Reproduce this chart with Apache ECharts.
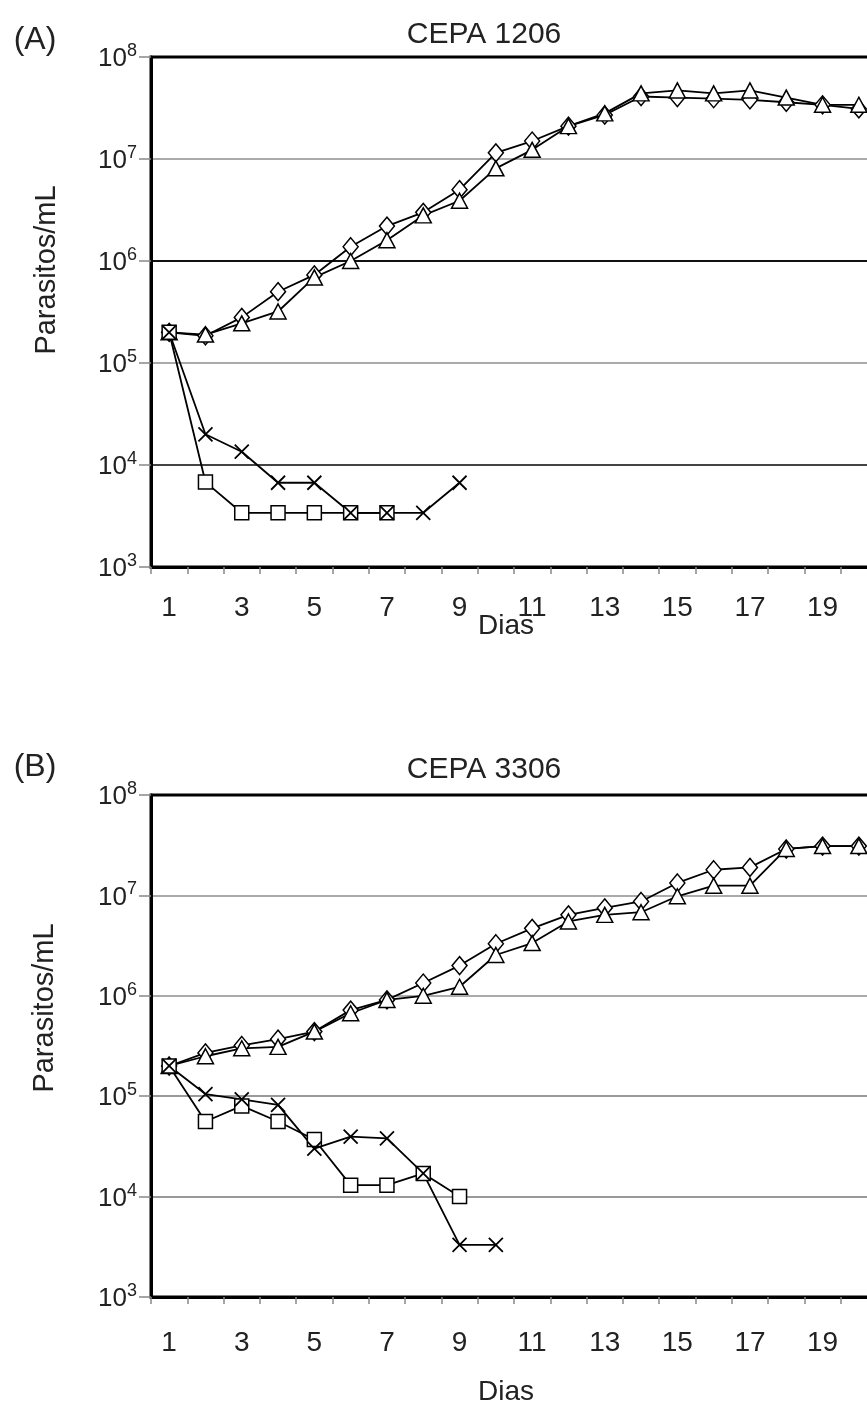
<!DOCTYPE html>
<html>
<head>
<meta charset="utf-8">
<script src="https://cdn.jsdelivr.net/npm/echarts@6/dist/echarts.min.js"></script>
<style>
  html, body { margin: 0; padding: 0; background: #fff; overflow: hidden; }
  /* the plot runs past the right edge of the page, as in the original figure */
  #chart { width: 890px; height: 1407px; }
</style>
</head>
<body>
<div id="chart"></div>
<script>
  // dias 1..20
  var dias = ['1','2','3','4','5','6','7','8','9','10','11','12','13','14','15','16','17','18','19','20']

  // CEPA 1206
  var aDiamante = [2.0e5, 1.85e5, 2.8e5, 5.0e5, 7.3e5, 1.38e6, 2.2e6, 3.0e6, 5.0e6, 1.15e7, 1.5e7, 2.1e7, 2.7e7, 4.1e7, 4.0e7, 3.9e7, 3.8e7, 3.6e7, 3.4e7, 3.1e7]
  var aTriangulo = [2.0e5, 1.9e5, 2.45e5, 3.2e5, 6.9e5, 1.0e6, 1.6e6, 2.8e6, 3.9e6, 8.1e6, 1.23e7, 2.1e7, 2.8e7, 4.4e7, 4.7e7, 4.4e7, 4.7e7, 4.0e7, 3.4e7, 3.4e7]
  var aCuadrado = [2.0e5, 6.8e3, 3.4e3, 3.4e3, 3.4e3, 3.4e3, 3.4e3]
  var aCruz = [2.0e5, 2.0e4, 1.35e4, 6.7e3, 6.7e3, 3.4e3, 3.4e3, 3.4e3, 6.7e3]

  // CEPA 3306
  var bDiamante = [2.0e5, 2.7e5, 3.2e5, 3.7e5, 4.4e5, 7.2e5, 9.1e5, 1.34e6, 2.0e6, 3.3e6, 4.7e6, 6.4e6, 7.5e6, 8.7e6, 1.33e7, 1.8e7, 1.9e7, 2.9e7, 3.1e7, 3.1e7]
  var bTriangulo = [2.0e5, 2.5e5, 3.0e5, 3.1e5, 4.4e5, 6.7e5, 9.1e5, 1.0e6, 1.23e6, 2.55e6, 3.35e6, 5.5e6, 6.4e6, 6.8e6, 9.8e6, 1.25e7, 1.25e7, 2.9e7, 3.1e7, 3.1e7]
  var bCuadrado = [2.0e5, 5.6e4, 8.0e4, 5.6e4, 3.7e4, 1.3e4, 1.3e4, 1.7e4, 1.0e4]
  var bCruz = [2.0e5, 1.05e5, 9.3e4, 8.2e4, 3.0e4, 3.95e4, 3.8e4, 1.7e4, 3.3e3, 3.3e3]

  var FONT = '"Liberation Sans", Arial, sans-serif'

  var myChart = echarts.init(document.getElementById('chart'))

  function xEje(idx, margen) {
    return {
      type: 'category',
      gridIndex: idx,
      data: dias,
      boundaryGap: true,
      axisLine: { lineStyle: { color: '#000', width: 3 } },
      axisTick: { show: true, interval: 0, length: 7, inside: false, lineStyle: { color: '#888', width: 1.5 } },
      axisLabel: { interval: 1, margin: margen, color: '#222', fontSize: 28, fontFamily: FONT },
      splitLine: { show: false }
    }
  }

  // colores de las lineas de 10^3 ... 10^8 (el indice del array va corrido en uno)
  function yEje(idx, colores) {
    return {
      type: 'log',
      logBase: 10,
      gridIndex: idx,
      min: 1e3,
      max: 1e8,
      axisLine: { show: true, lineStyle: { color: '#000', width: 3 } },
      axisTick: { show: true, length: 12, inside: false, lineStyle: { color: '#888', width: 1.5 } },
      axisLabel: {
        margin: 14,
        color: '#222',
        formatter: function (v) {
          var e = Math.round(Math.log10(v))
          return '{b|10}{s|' + e + '}'
        },
        rich: {
          b: { fontSize: 26, fontFamily: FONT, color: '#222', lineHeight: 30, verticalAlign: 'bottom' },
          s: { fontSize: 18, fontFamily: FONT, color: '#222', verticalAlign: 'top', lineHeight: 18 }
        }
      },
      splitLine: { show: true, lineStyle: { color: colores, width: 2 } }
    }
  }

  function serie(nombre, datos, idx, simbolo, tam) {
    var cruz = simbolo === 'cruz'
    return {
      name: nombre,
      type: 'line',
      xAxisIndex: idx,
      yAxisIndex: idx,
      data: datos,
      symbol: cruz ? 'path://M0,0L10,10M10,0L0,10' : simbolo,
      symbolSize: tam,
      showAllSymbol: true,
      animation: false,
      lineStyle: { color: '#000', width: 1.8 },
      itemStyle: {
        color: cruz ? 'none' : '#fff',
        borderColor: '#000',
        borderWidth: cruz ? 1.8 : 1.5
      }
    }
  }

  function texto(t, x, y, size, rot) {
    return {
      type: 'text',
      x: x,
      y: y,
      rotation: rot || 0,
      style: {
        text: t,
        fill: '#222',
        font: size + 'px ' + FONT,
        textAlign: 'center',
        textVerticalAlign: 'middle'
      }
    }
  }

  var option = {
    backgroundColor: '#fff',
    animation: false,
    grid: [
      { left: 151, top: 57, width: 726, height: 510, show: true, borderColor: '#000', borderWidth: 3 },
      { left: 151, top: 795, width: 726, height: 502, show: true, borderColor: '#000', borderWidth: 3 }
    ],
    xAxis: [xEje(0, 27), xEje(1, 32)],
    yAxis: [
      yEje(0, ['#000', '#000', '#444', '#aaa', '#111', '#aaa']),
      yEje(1, ['#000', '#000', '#999', '#999', '#aaa', '#aaa'])
    ],
    series: [
      serie('A diamante', aDiamante, 0, 'diamond', [15, 18]),
      serie('A triangulo', aTriangulo, 0, 'triangle', [16, 15]),
      serie('A cuadrado', aCuadrado, 0, 'rect', 14),
      serie('A cruz', aCruz, 0, 'cruz', 14),
      serie('B diamante', bDiamante, 1, 'diamond', [15, 18]),
      serie('B triangulo', bTriangulo, 1, 'triangle', [16, 15]),
      serie('B cuadrado', bCuadrado, 1, 'rect', 14),
      serie('B cruz', bCruz, 1, 'cruz', 14)
    ],
    graphic: [
      texto('(A)', 35, 40, 32),
      texto('(B)', 35, 767, 32),
      texto('CEPA 1206', 484, 35, 30),
      texto('CEPA 3306', 484, 770, 30),
      texto('Dias', 506, 626, 28),
      texto('Dias', 506, 1392, 28),
      texto('Parasitos/mL', 47, 270, 29, Math.PI / 2),
      texto('Parasitos/mL', 45, 1008, 29, Math.PI / 2)
    ]
  }

  myChart.setOption(option)
</script>
</body>
</html>
